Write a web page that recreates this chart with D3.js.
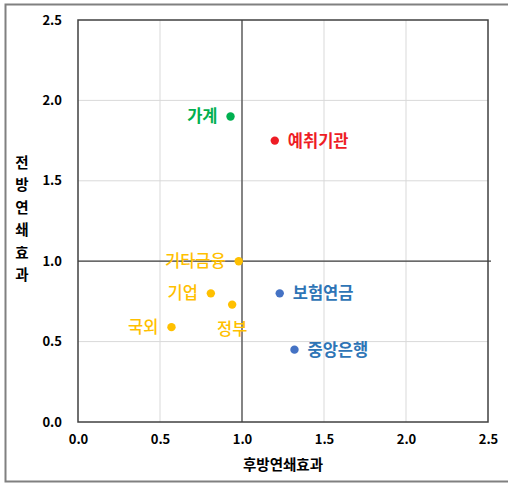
<!DOCTYPE html>
<html>
<head>
<meta charset="utf-8">
<script src="https://cdn.jsdelivr.net/npm/d3@7"></script>
<style>
  html, body { margin: 0; padding: 0; background: #fff; }
  svg { display: block; font-family: "Noto Sans CJK KR", "Noto Sans", sans-serif; }
</style>
</head>
<body>
<svg id="chart" width="508" height="484"></svg>
<script>
// Sectors: backward linkage (x) vs forward linkage (y)
const sectors   = ["가계", "예취기관", "기타금융", "기업", "정부", "국외", "보험연금", "중앙은행"];
const backward  = [0.93, 1.20, 0.98, 0.81, 0.94, 0.57, 1.23, 1.32];
const forward   = [1.90, 1.75, 1.00, 0.80, 0.73, 0.59, 0.80, 0.45];
const dotColors = ["#00B050", "#EE1C25", "#FFC000", "#FFC000", "#FFC000", "#FFC000", "#4472C4", "#4472C4"];
const txtColors = ["#00B050", "#EE1C25", "#FFC000", "#FFC000", "#FFC000", "#FFC000", "#2E75B6", "#2E75B6"];
const labelSide = ["left", "right", "left", "left", "below", "left", "right", "right"];
const labelBold = [true, true, false, false, false, false, true, true];
const tickValues = [0, 0.5, 1.0, 1.5, 2.0, 2.5];
const xTitle = "후방연쇄효과";
const yTitle = "전방연쇄효과";

const svg = d3.select("#chart");
const plotL = 78, plotR = 488, plotT = 20, plotB = 422;

const x = d3.scaleLinear().domain([0, 2.5]).range([plotL, plotR]);
const y = d3.scaleLinear().domain([0, 2.5]).range([plotB, plotT]);

// outer frame (open on the right side)
svg.append("path")
  .attr("d", `M510,4.5 H5.5 V481.5 H510`)
  .attr("fill", "none").attr("stroke", "#808080").attr("stroke-width", 2);

// gridlines
const grid = svg.append("g");
grid.selectAll(".gx").data(tickValues.slice(1, -1)).join("line")
  .attr("x1", d => x(d)).attr("x2", d => x(d))
  .attr("y1", plotT).attr("y2", plotB)
  .attr("stroke", "#D9D9D9").attr("stroke-width", 1);
grid.selectAll(".gy").data(tickValues.slice(1, -1)).join("line")
  .attr("y1", d => y(d)).attr("y2", d => y(d))
  .attr("x1", plotL).attr("x2", plotR)
  .attr("stroke", "#D9D9D9").attr("stroke-width", 1);

// plot frame
svg.append("rect")
  .attr("x", plotL).attr("y", plotT)
  .attr("width", plotR - plotL).attr("height", plotB - plotT)
  .attr("fill", "none").attr("stroke", "#404040").attr("stroke-width", 1.5);

// reference lines at 1.0
svg.append("line")
  .attr("x1", x(1)).attr("x2", x(1)).attr("y1", plotT).attr("y2", plotB)
  .attr("stroke", "#404040").attr("stroke-width", 1.2);
svg.append("line")
  .attr("x1", plotL).attr("x2", plotR + 3).attr("y1", y(1)).attr("y2", y(1))
  .attr("stroke", "#404040").attr("stroke-width", 1.2);

// axes (labels only, no tick marks)
const fmt = d3.format(".1f");
const xAxis = svg.append("g")
  .attr("transform", `translate(0,${plotB})`)
  .call(d3.axisBottom(x).tickValues(tickValues).tickFormat(fmt).tickSize(0).tickPadding(13));
const yAxis = svg.append("g")
  .attr("transform", `translate(${plotL},0)`)
  .call(d3.axisLeft(y).tickValues(tickValues).tickFormat(fmt).tickSize(0).tickPadding(16));
[xAxis, yAxis].forEach(a => {
  a.select(".domain").remove();
  a.selectAll("text")
    .attr("font-family", "'Noto Sans CJK KR', sans-serif")
    .attr("font-size", 13).attr("font-weight", 700).attr("fill", "#000");
});

// axis titles
svg.append("text")
  .attr("x", (plotL + plotR) / 2).attr("y", 470)
  .attr("text-anchor", "middle")
  .attr("font-size", 14.5).attr("font-weight", 700).attr("fill", "#000")
  .text(xTitle);
svg.append("g").selectAll("text").data(Array.from(yTitle)).join("text")
  .attr("x", 22).attr("y", (d, i) => 168 + i * 22.4)
  .attr("text-anchor", "middle")
  .attr("font-size", 14.5).attr("font-weight", 700).attr("fill", "#000")
  .text(d => d);

// points
const pts = sectors.map((s, i) => ({
  name: s, bx: backward[i], fy: forward[i],
  dot: dotColors[i], txt: txtColors[i], side: labelSide[i], bold: labelBold[i]
}));

svg.append("g").selectAll("circle").data(pts).join("circle")
  .attr("cx", d => x(d.bx)).attr("cy", d => y(d.fy)).attr("r", 4.2)
  .attr("fill", d => d.dot);

svg.append("g").selectAll("text").data(pts).join("text")
  .attr("x", d => d.side === "left" ? x(d.bx) - 13 : d.side === "right" ? x(d.bx) + 13 : x(d.bx))
  .attr("y", d => d.side === "below" ? y(d.fy) + 30 : y(d.fy) + 6)
  .attr("text-anchor", d => d.side === "left" ? "end" : d.side === "right" ? "start" : "middle")
  .attr("font-size", 16.5)
  .attr("font-weight", d => d.bold ? 700 : 500)
  .attr("fill", d => d.txt)
  .text(d => d.name);
</script>
</body>
</html>
